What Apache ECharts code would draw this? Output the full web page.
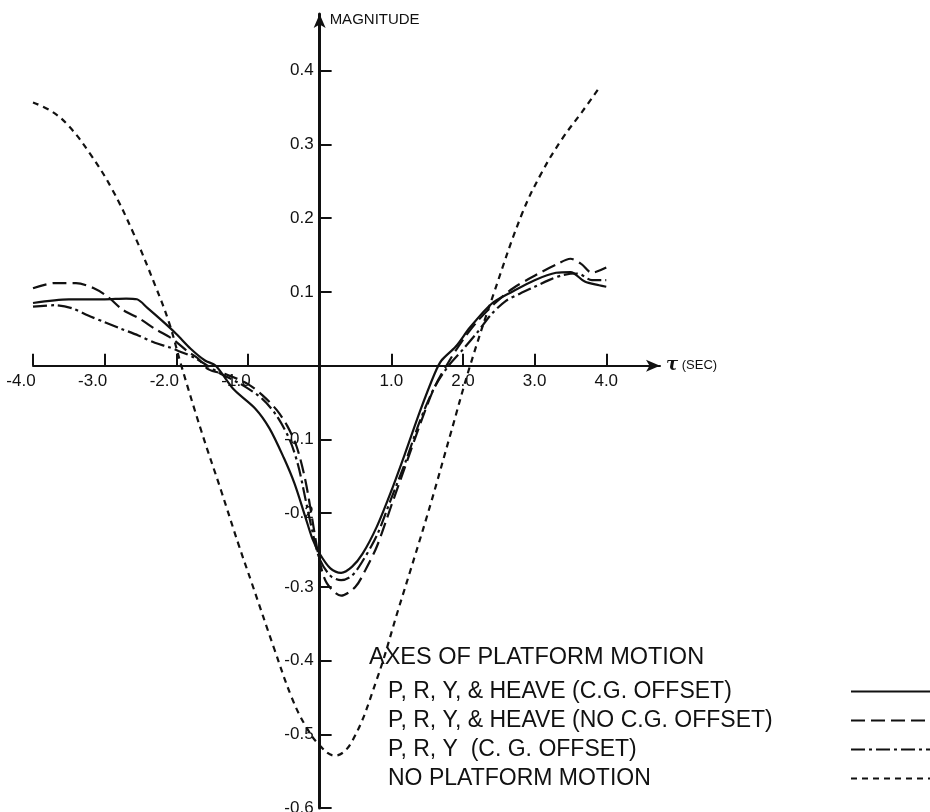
<!DOCTYPE html>
<html>
<head>
<meta charset="utf-8">
<script src="https://cdn.jsdelivr.net/npm/echarts@6/dist/echarts.min.js"></script>
<style>
  html, body { margin: 0; padding: 0; background: #fff; }
  #chart { width: 930px; height: 812px; }
</style>
</head>
<body>
<div id="chart"></div>
<script>
  // tick labels
  var xTicks = [-4, -3, -2, -1, 1, 2, 3, 4];
  var yTicks = [-0.6, -0.5, -0.4, -0.3, -0.2, -0.1, 0.1, 0.2, 0.3, 0.4];

  // P, R, Y, & HEAVE (C.G. OFFSET) -- solid
  var cgX = [-4.0, -3.5, -3.0, -2.7, -2.55, -2.4, -2.2, -2.0, -1.8, -1.6, -1.45, -1.2, -0.9, -0.7, -0.5, -0.35, -0.2, -0.1, 0.0, 0.15, 0.3, 0.45, 0.6, 0.8, 1.0, 1.2, 1.4, 1.6, 1.7, 1.9, 2.1, 2.4, 2.7, 3.0, 3.3, 3.5, 3.7, 3.9, 4.0];
  var cgY = [0.085, 0.090, 0.090, 0.091, 0.090, 0.078, 0.061, 0.043, 0.023, 0.007, 0.0, -0.032, -0.058, -0.085, -0.125, -0.160, -0.205, -0.235, -0.255, -0.275, -0.281, -0.273, -0.255, -0.218, -0.170, -0.117, -0.062, -0.012, 0.007, 0.026, 0.052, 0.084, 0.101, 0.116, 0.126, 0.127, 0.114, 0.109, 0.107];

  // P, R, Y, & HEAVE (NO C.G. OFFSET) -- long dash
  var noCgX = [-4.0, -3.7, -3.4, -3.15, -2.95, -2.75, -2.5, -2.3, -2.05, -1.85, -1.7, -1.55, -1.3, -1.0, -0.8, -0.6, -0.45, -0.32, -0.2, -0.1, 0.0, 0.1, 0.3, 0.5, 0.65, 0.8, 1.0, 1.2, 1.4, 1.6, 1.8, 2.0, 2.2, 2.45, 2.7, 3.0, 3.3, 3.5, 3.65, 3.8, 4.0];
  var noCgY = [0.105, 0.112, 0.112, 0.105, 0.093, 0.076, 0.063, 0.050, 0.036, 0.020, 0.010, -0.005, -0.012, -0.025, -0.040, -0.060, -0.082, -0.110, -0.155, -0.210, -0.265, -0.295, -0.312, -0.300, -0.275, -0.245, -0.190, -0.135, -0.080, -0.030, 0.005, 0.035, 0.060, 0.085, 0.105, 0.122, 0.137, 0.145, 0.138, 0.126, 0.133];

  // P, R, Y (C. G. OFFSET) -- dash dot
  var pryX = [-4.0, -3.7, -3.46, -3.23, -3.0, -2.77, -2.53, -2.3, -2.1, -1.97, -1.75, -1.4, -1.1, -0.8, -0.6, -0.42, -0.3, -0.2, -0.1, 0.0, 0.15, 0.3, 0.45, 0.6, 0.8, 1.0, 1.2, 1.4, 1.6, 1.8, 2.0, 2.2, 2.4, 2.6, 2.8, 3.0, 3.2, 3.4, 3.6, 3.8, 4.0];
  var pryY = [0.080, 0.082, 0.078, 0.068, 0.059, 0.050, 0.041, 0.031, 0.025, 0.020, 0.011, -0.010, -0.025, -0.045, -0.068, -0.100, -0.135, -0.180, -0.225, -0.262, -0.285, -0.291, -0.285, -0.265, -0.230, -0.180, -0.130, -0.075, -0.030, 0.000, 0.022, 0.045, 0.070, 0.088, 0.098, 0.107, 0.116, 0.123, 0.125, 0.116, 0.116];

  // NO PLATFORM MOTION -- short dash
  var noneX = [-4.0, -3.74, -3.5, -3.2, -2.9, -2.6, -2.3, -2.1, -1.93, -1.65, -1.37, -1.13, -0.95, -0.63, -0.39, -0.2, 0.0, 0.21, 0.45, 0.8, 1.1, 1.33, 1.56, 1.82, 2.1, 2.43, 2.82, 3.1, 3.38, 3.66, 3.91];
  var noneY = [0.357, 0.345, 0.325, 0.287, 0.240, 0.180, 0.110, 0.058, 0.0, -0.089, -0.171, -0.243, -0.294, -0.385, -0.450, -0.488, -0.515, -0.529, -0.510, -0.425, -0.330, -0.258, -0.184, -0.095, 0.0, 0.098, 0.205, 0.262, 0.307, 0.344, 0.378];

  var names = [
    'P, R, Y, & HEAVE (C.G. OFFSET)',
    'P, R, Y, & HEAVE (NO C.G. OFFSET)',
    'P, R, Y  (C. G. OFFSET)',
    'NO PLATFORM MOTION'
  ];

  function pairs(xs, ys) {
    var out = [];
    for (var i = 0; i < xs.length; i++) {
      out.push([xs[i], ys[i]]);
    }
    return out;
  }

  var ink = '#111';
  var font = 'Liberation Sans';

  // grid box, axes cross at (0, 0) inside it
  var W = 930, H = 812;
  var gLeft = 33, gRight = 270, gTop = 14, gBottom = 4;
  var xMin = -4, xMax = 4.75, yMin = -0.6, yMax = 0.477;
  var gW = W - gLeft - gRight, gH = H - gTop - gBottom;
  var xAxisShift = -gH * (0 - yMin) / (yMax - yMin);
  var yAxisShift = -gW * (0 - xMin) / (xMax - xMin);

  var chart = echarts.init(document.getElementById('chart'));

  var option = {
    backgroundColor: '#fff',
    animation: false,
    title: {
      text: 'AXES OF PLATFORM MOTION',
      left: 369,
      top: 646,
      padding: 0,
      textStyle: { fontSize: 23.5, fontWeight: 'normal', color: ink, fontFamily: font }
    },
    legend: {
      orient: 'vertical',
      align: 'right',
      left: 388,
      top: 680,
      padding: 0,
      itemWidth: 80,
      itemHeight: 14,
      itemGap: 6,
      selectedMode: false,
      itemStyle: { opacity: 0 },
      formatter: function (name) {
        return '{t|' + name + '}';
      },
      textStyle: {
        color: ink,
        fontSize: 23,
        fontFamily: font,
        rich: {
          t: { width: 458, align: 'left', fontSize: 23, fontFamily: font, color: ink, lineHeight: 23 }
        }
      },
      data: names
    },
    grid: {
      left: gLeft,
      right: gRight,
      top: gTop,
      bottom: gBottom,
      containLabel: false,
      outerBoundsMode: 'none'
    },
    xAxis: {
      type: 'value',
      position: 'bottom',
      offset: xAxisShift,
      min: xMin,
      max: xMax,
      interval: 1,
      name: '{t|τ} (SEC)',
      nameLocation: 'end',
      nameGap: 6,
      nameTextStyle: {
        color: ink,
        fontSize: 13,
        fontFamily: font,
        align: 'left',
        verticalAlign: 'middle',
        rich: {
          t: { fontSize: 18, fontStyle: 'italic', fontWeight: 'bold', fontFamily: 'DejaVu Serif', color: ink }
        }
      },
      axisLine: {
        onZero: false,
        symbol: ['none', 'arrow'],
        symbolSize: [9, 14],
        lineStyle: { color: ink, width: 2 }
      },
      axisTick: {
        show: true,
        inside: true,
        length: 12,
        customValues: xTicks,
        lineStyle: { color: ink, width: 2 }
      },
      axisLabel: {
        customValues: xTicks,
        margin: 7,
        color: ink,
        fontSize: 17,
        fontFamily: font,
        formatter: function (v) {
          var s = v.toFixed(1);
          return v < 0 ? '{n|' + s + '}' : s;
        },
        rich: {
          n: { padding: [0, 24, 0, 0], fontSize: 17, fontFamily: font, color: ink }
        }
      },
      splitLine: { show: false }
    },
    yAxis: {
      type: 'value',
      position: 'left',
      offset: yAxisShift,
      min: yMin,
      max: yMax,
      interval: 0.1,
      name: 'MAGNITUDE',
      nameLocation: 'end',
      nameGap: -6,
      nameTextStyle: {
        color: ink,
        fontSize: 15,
        fontFamily: font,
        align: 'left',
        verticalAlign: 'middle',
        padding: [0, 0, 0, 10]
      },
      axisLine: {
        onZero: false,
        symbol: ['none', 'arrow'],
        symbolSize: [9, 14],
        lineStyle: { color: ink, width: 3 }
      },
      axisTick: {
        show: true,
        inside: true,
        length: 12,
        customValues: yTicks,
        lineStyle: { color: ink, width: 2 }
      },
      axisLabel: {
        customValues: yTicks,
        margin: 6,
        color: ink,
        fontSize: 17,
        fontFamily: font,
        formatter: function (v) {
          return v.toFixed(1);
        }
      },
      splitLine: { show: false }
    },
    series: [
      {
        name: names[0],
        type: 'line',
        data: pairs(cgX, cgY),
        smooth: 0.3,
        symbol: 'none',
        lineStyle: { color: ink, width: 2.2, type: 'solid' },
        itemStyle: { color: ink }
      },
      {
        name: names[1],
        type: 'line',
        data: pairs(noCgX, noCgY),
        smooth: 0.3,
        symbol: 'none',
        lineStyle: { color: ink, width: 2.2, type: [14, 6] },
        itemStyle: { color: ink }
      },
      {
        name: names[2],
        type: 'line',
        data: pairs(pryX, pryY),
        smooth: 0.3,
        symbol: 'none',
        lineStyle: { color: ink, width: 2.2, type: [14, 4, 3, 4] },
        itemStyle: { color: ink }
      },
      {
        name: names[3],
        type: 'line',
        data: pairs(noneX, noneY),
        smooth: 0.4,
        symbol: 'none',
        lineStyle: { color: ink, width: 2.2, type: [6, 5] },
        itemStyle: { color: ink }
      }
    ]
  };

  chart.setOption(option);
</script>
</body>
</html>
